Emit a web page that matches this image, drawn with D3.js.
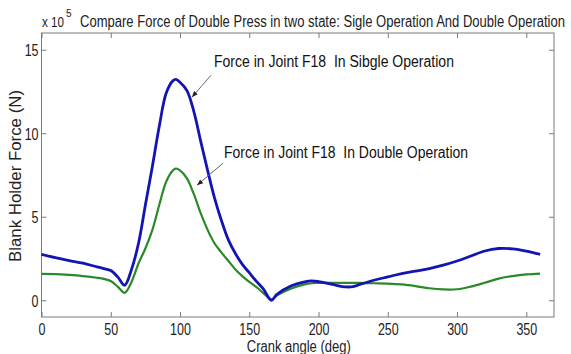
<!DOCTYPE html>
<html><head><meta charset="utf-8">
<script src="https://cdn.jsdelivr.net/npm/d3@7"></script>
<style>body{margin:0;background:#fff;}svg{display:block;font-family:"Liberation Sans",Arial,sans-serif;}text{white-space:pre;}</style>
</head><body><svg id="c" width="571" height="354"></svg>
<script>
const angles = [0,10,20,30,40,45,50,55,60,65,70,75,80,85,90,95,97,100,105,110,115,120,125,130,135,140,145,150,155,160,166,170,180,190,195,200,210,220,225,230,240,250,260,270,280,290,300,310,320,330,340,350,360];
const singleOp = [2.75,2.55,2.38,2.22,2.0,1.9,1.78,1.4,0.9,1.85,3.4,5.7,8.0,10.4,12.4,13.15,13.22,13.05,12.55,11.3,9.5,7.75,6.1,4.75,3.6,2.8,2.15,1.65,1.15,0.7,0.0,0.35,0.85,1.1,1.16,1.12,0.95,0.8,0.82,0.95,1.2,1.4,1.6,1.75,1.9,2.1,2.35,2.65,2.95,3.1,3.08,2.95,2.75];
const doubleOp = [1.58,1.57,1.52,1.45,1.35,1.28,1.15,0.82,0.45,1.1,2.2,3.1,4.2,5.7,7.1,7.78,7.88,7.78,7.3,6.35,5.2,4.2,3.4,2.85,2.35,1.85,1.45,1.1,0.8,0.45,0.05,0.3,0.7,0.95,1.02,1.04,1.05,1.04,1.04,1.04,1.02,1.0,0.95,0.85,0.72,0.65,0.66,0.82,1.05,1.3,1.45,1.55,1.6];
const xTicks = [0,50,100,150,200,250,300,350];
const yTicks = [0,5,10,15];
const titleText = "Compare Force of Double Press in two state: Sigle Operation And Double Operation";
const xLabel = "Crank angle (deg)";
const yLabel = "Blank Holder Force (N)";
const annotations = [
  {text:"Force in Joint F18  In Sibgle Operation", tx:124.5, ty:13.95, x1:122.4, y1:13.47, x2:108.6, y2:12.16, w:240},
  {text:"Force in Joint F18  In Double Operation", tx:131.8, ty:8.5, x1:131, y1:8.2, x2:112.3, y2:6.89, w:244}
];

const svg = d3.select("#c");
const L=41.5, R=554, T=33, B=317;
const x = d3.scaleLinear().domain([0,370]).range([L,R]);
const y = d3.scaleLinear().domain([-1,16]).range([B,T]);
const axisColor = "#7a7a7a";

svg.append("defs").append("marker").attr("id","ah").attr("viewBox","0 0 10 10")
  .attr("refX",10).attr("refY",5).attr("markerWidth",7).attr("markerHeight",6).attr("orient","auto")
  .append("path").attr("d","M0,1 L10,5 L0,9 z").attr("fill","#222");

// box
svg.append("rect").attr("x",L).attr("y",T).attr("width",R-L).attr("height",B-T)
  .attr("fill","none").attr("stroke",axisColor).attr("stroke-width",1);

// axes (inward ticks)
const fmt = d3.format("d");
const xb = svg.append("g").attr("transform",`translate(0,${B})`).call(d3.axisBottom(x).tickValues(xTicks).tickSizeInner(-5).tickSizeOuter(0).tickFormat(fmt));
const xt = svg.append("g").attr("transform",`translate(0,${T})`).call(d3.axisTop(x).tickValues(xTicks).tickSizeInner(-5).tickSizeOuter(0).tickFormat(""));
const yl = svg.append("g").attr("transform",`translate(${L},0)`).call(d3.axisLeft(y).tickValues(yTicks).tickSizeInner(-5).tickSizeOuter(0).tickFormat(fmt));
const yr = svg.append("g").attr("transform",`translate(${R},0)`).call(d3.axisRight(y).tickValues(yTicks).tickSizeInner(-5).tickSizeOuter(0).tickFormat(""));
[xb,xt,yl,yr].forEach(g=>{g.select(".domain").remove();g.selectAll("line").attr("stroke",axisColor);});
xb.selectAll("text").attr("font-size",16).attr("fill","#222").attr("dy",null).attr("x",0).attr("y",0)
  .attr("transform","translate(0,18) scale(0.78,1)");
yl.selectAll("text").attr("font-size",16).attr("fill","#222").attr("dy","0.36em").attr("x",0)
  .attr("transform","translate(-3,0) scale(0.78,1)");

// lines
const line = d3.line().x((d,i)=>x(angles[i])).y(d=>y(d)).curve(d3.curveCatmullRom.alpha(0.5));
svg.append("path").datum(doubleOp).attr("d",line).attr("fill","none").attr("stroke","#2a8a2a").attr("stroke-width",2.2);
svg.append("path").datum(singleOp).attr("d",line).attr("fill","none").attr("stroke","#1414b4").attr("stroke-width",2.8);

// annotations
annotations.forEach(a=>{
  svg.append("line").attr("x1",x(a.x1)).attr("y1",y(a.y1)).attr("x2",x(a.x2)).attr("y2",y(a.y2))
    .attr("stroke","#666").attr("stroke-width",1).attr("marker-end","url(#ah)");
  svg.append("text").attr("x",x(a.tx)).attr("y",y(a.ty)).attr("font-size",16).attr("fill","#111")
    .attr("textLength",a.w).attr("lengthAdjust","spacingAndGlyphs").text(a.text);
});

// title & labels
svg.append("text").attr("x",80).attr("y",27).attr("font-size",16).attr("fill","#222")
  .attr("textLength",485).attr("lengthAdjust","spacingAndGlyphs").text(titleText);
svg.append("text").attr("x",42).attr("y",27).attr("font-size",15).attr("fill","#222")
  .attr("textLength",22).attr("lengthAdjust","spacingAndGlyphs").text("x 10");
svg.append("text").attr("x",66).attr("y",17).attr("font-size",10).attr("fill","#222").text("5");
svg.append("text").attr("x",(L+R)/2+1).attr("y",352).attr("text-anchor","middle").attr("font-size",16).attr("fill","#222")
  .attr("textLength",104).attr("lengthAdjust","spacingAndGlyphs").text(xLabel);
svg.append("text").attr("transform",`translate(21,176) rotate(-90)`).attr("text-anchor","middle").attr("font-size",16).attr("fill","#222")
  .attr("textLength",172).attr("lengthAdjust","spacingAndGlyphs").text(yLabel);
</script></body></html>
